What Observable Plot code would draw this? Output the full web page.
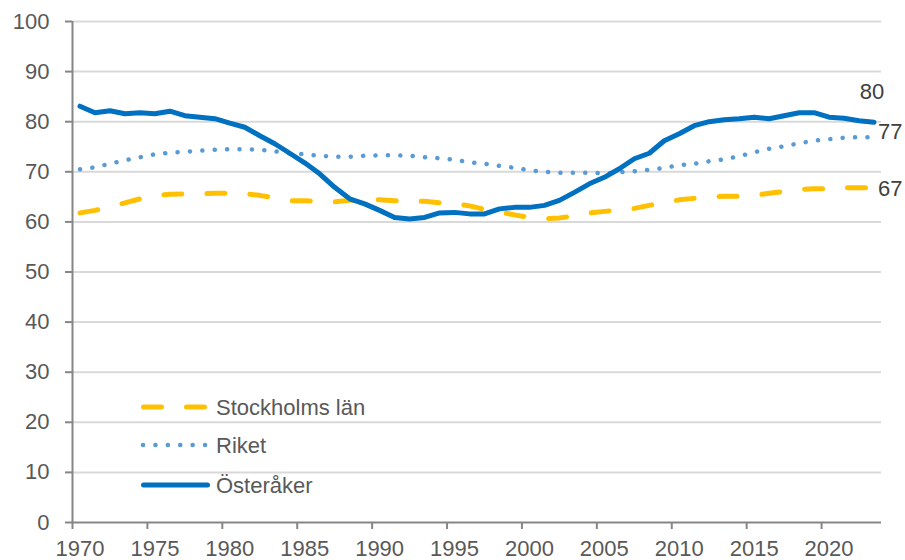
<!DOCTYPE html>
<html><head><meta charset="utf-8">
<script src="https://cdn.jsdelivr.net/npm/d3@7"></script>
<script src="https://cdn.jsdelivr.net/npm/@observablehq/plot@0.6"></script>
<style>
body{margin:0;background:#fff;font-family:"Liberation Sans",Arial,sans-serif;}
#wrap{position:relative;width:905px;height:560px;overflow:hidden;}
#wrap svg{overflow:visible;}
#legend{position:absolute;left:0;top:0;pointer-events:none;}
</style></head><body>
<div id="wrap"></div>
<script>
const years = [1970,1971,1972,1973,1974,1975,1976,1977,1978,1979,1980,1981,1982,1983,1984,1985,1986,1987,1988,1989,1990,1991,1992,1993,1994,1995,1996,1997,1998,1999,2000,2001,2002,2003,2004,2005,2006,2007,2008,2009,2010,2011,2012,2013,2014,2015,2016,2017,2018,2019,2020,2021,2022,2023];
const stockholm = [61.8,62.3,63.0,63.8,64.6,65.3,65.5,65.6,65.6,65.7,65.7,65.6,65.3,64.8,64.2,64.2,64.1,64.0,64.3,64.4,64.4,64.2,64.2,64.1,63.8,63.7,63.2,62.5,62.0,61.4,60.9,60.6,60.8,61.2,61.8,62.1,62.4,62.7,63.3,63.9,64.4,64.7,65.0,65.1,65.1,65.3,65.7,66.1,66.5,66.6,66.6,66.8,66.8,66.8];
const riket = [70.5,70.9,71.6,72.3,72.9,73.5,73.8,74.0,74.2,74.4,74.5,74.5,74.4,74.1,73.7,73.5,73.2,73.0,73.0,73.2,73.3,73.3,73.2,72.9,72.7,72.4,71.9,71.6,71.2,70.8,70.3,70.0,69.8,69.8,69.8,69.7,69.9,70.1,70.4,70.8,71.3,71.6,72.1,72.5,73.1,73.9,74.6,75.1,75.7,76.2,76.5,76.8,76.9,76.9];
const osteraker = [83.1,81.8,82.2,81.6,81.8,81.6,82.1,81.2,80.9,80.6,79.7,78.9,77.2,75.6,73.7,71.8,69.6,66.9,64.6,63.6,62.3,60.9,60.6,60.9,61.8,61.9,61.6,61.6,62.6,62.9,62.9,63.3,64.3,65.9,67.6,68.9,70.6,72.6,73.7,76.2,77.6,79.2,80.0,80.4,80.6,80.9,80.6,81.2,81.8,81.8,80.9,80.7,80.2,79.9];
const endLabels = ["67","77","80"];
const seriesNames = ["Stockholms län","Riket","Österåker"];
const xTicks = [1970,1975,1980,1985,1990,1995,2000,2005,2010,2015,2020];
const yTicks = [0,10,20,30,40,50,60,70,80,90,100];

const colors = ["#FFC000","#5B9BD5","#0070C0"];
const toRows = vals => years.map((yr,i)=>({year:yr, value:vals[i]}));
const S = toRows(stockholm), R = toRows(riket), O = toRows(osteraker);
const last = arr => [arr[arr.length-1]];
const tickBounds = xTicks.map(t => t - 0.5);

const chart = Plot.plot({
  width: 905, height: 560,
  marginLeft: 72, marginRight: 24, marginTop: 21, marginBottom: 38,
  x: {domain: [years[0]-0.5, years[years.length-1]+0.5]},
  y: {domain: [0, 100]},
  style: {fontFamily: "'Liberation Sans', Arial, sans-serif", fontSize: "22px", color: "#595959", background: "#fff"},
  marks: [
    Plot.gridY(yTicks.filter(d=>d>0), {stroke: "#d9d9d9", strokeOpacity: 1, strokeWidth: 2}),
    Plot.axisY(yTicks, {tickSize: 7, tickPadding: 16, stroke: "#868686", strokeWidth: 2, fill: "#595959", fontSize: 22, label: null}),
    Plot.axisX(tickBounds, {tickSize: 7, tickFormat: () => "", stroke: "#868686", strokeWidth: 2, label: null}),
    Plot.axisX(xTicks, {tickSize: 0, tickPadding: 18, tickFormat: d => String(d), fill: "#595959", fontSize: 22, label: null}),
    Plot.ruleX([years[0]-0.5], {stroke: "#868686", strokeWidth: 2}),
    Plot.ruleY([0], {stroke: "#868686", strokeWidth: 2}),
    Plot.line(S, {x: "year", y: "value", stroke: colors[0], strokeWidth: 5, strokeDasharray: "18,25", strokeLinecap: "round"}),
    Plot.line(R, {x: "year", y: "value", stroke: colors[1], strokeWidth: 4.5, strokeDasharray: "0.1,12.3", strokeLinecap: "round"}),
    Plot.line(O, {x: "year", y: "value", stroke: colors[2], strokeWidth: 5, strokeLinecap: "round", strokeLinejoin: "round"}),
    Plot.text(last(S), {x: "year", y: "value", text: () => endLabels[0], textAnchor: "start", dx: 4, dy: 1, fill: "#404040", fontSize: 22}),
    Plot.text(last(R), {x: "year", y: "value", text: () => endLabels[1], textAnchor: "start", dx: 4, dy: -5, fill: "#404040", fontSize: 22}),
    Plot.text(last(O), {x: "year", y: "value", text: () => endLabels[2], textAnchor: "middle", dx: -2, dy: -30, fill: "#404040", fontSize: 22})
  ]
});
document.getElementById("wrap").appendChild(chart);

// legend overlay
const lg = d3.select("#wrap").append("svg").attr("id","legend").attr("width",905).attr("height",560);
const rowsY = [407, 445, 485];
const dashes = ["18,25", "0.1,12.3", null];
const widths = [5, 4.5, 5];
const ends = [[143.5,204.5],[143,205.5],[143.5,207.5]];
seriesNames.forEach((name,i)=>{
  const ln = lg.append("line").attr("x1",ends[i][0]).attr("x2",ends[i][1]).attr("y1",rowsY[i]).attr("y2",rowsY[i])
    .attr("stroke",colors[i]).attr("stroke-width",widths[i]).attr("stroke-linecap","round");
  if (dashes[i]) ln.attr("stroke-dasharray",dashes[i]);
  lg.append("text").attr("x",216).attr("y",rowsY[i]).attr("dy","0.35em")
    .attr("fill","#595959").attr("font-size",22).attr("font-family","'Liberation Sans', Arial, sans-serif").text(name);
});
</script>
</body></html>
